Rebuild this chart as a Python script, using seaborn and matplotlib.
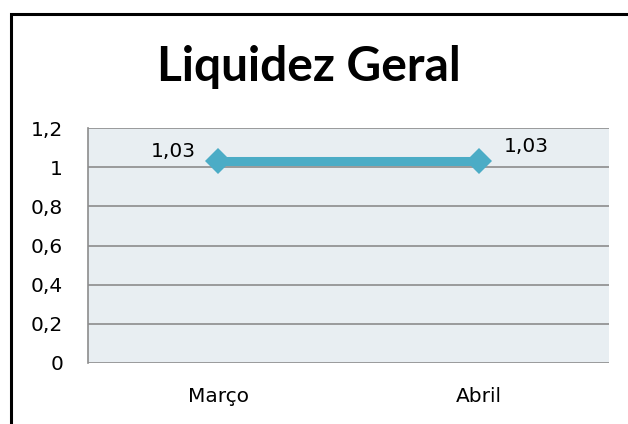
import matplotlib
matplotlib.use("Agg")
import matplotlib.pyplot as plt
import seaborn as sns
import pandas as pd
from matplotlib.patches import Rectangle

categories = ["Março", "Abril"]
values = [1.03, 1.03]
value_labels = ["1,03", "1,03"]
y_ticks = [0, 0.2, 0.4, 0.6, 0.8, 1.0, 1.2]
y_tick_labels = ["0", "0,2", "0,4", "0,6", "0,8", "1", "1,2"]

sns.set_theme(style="white")
plt.rcParams['font.family'] = ['DejaVu Sans']

fig = plt.figure(figsize=(6.28, 4.24), dpi=100)
fig.patch.set_facecolor("white")
fig.add_artist(Rectangle((11/628, -0.1), 1.2, 1 - 14/424 + 0.1, transform=fig.transFigure,
                         fill=False, edgecolor="black", linewidth=2.2))

ax = fig.add_axes([88/628, 1 - 363/424, (609-88)/628, (363-128)/424])
ax.set_facecolor("#e8eef2")

df = pd.DataFrame({"mes": categories, "valor": values})
sns.lineplot(data=df, x="mes", y="valor", ax=ax, color="#4bacc6", linewidth=6.5,
             marker="D", markersize=13, markeredgewidth=0, sort=False)

ax.set_xlim(-0.5, 1.5)
ax.set_ylim(0, 1.2)
ax.set_yticks(y_ticks)
ax.set_yticklabels(y_tick_labels)
ax.yaxis.grid(True, color="#8c8c8c", linewidth=1.2)
ax.set_axisbelow(True)
for s in ["top", "right", "bottom"]:
    ax.spines[s].set_visible(False)
ax.spines["left"].set_color("#8c8c8c")
ax.spines["left"].set_linewidth(1.2)
fs = 14.5
ax.tick_params(axis="y", length=0, pad=18, labelsize=fs, labelcolor="black")
ax.tick_params(axis="x", length=0, pad=17, labelsize=fs, labelcolor="black")
ax.set_xlabel("")
ax.set_ylabel("")

ax.annotate(value_labels[0], (0, values[0]), xytext=(-16.5, 3), textcoords="offset points",
            ha="right", va="baseline", fontsize=fs, color="black")
ax.annotate(value_labels[1], (1, values[1]), xytext=(18, 6.5), textcoords="offset points",
            ha="left", va="baseline", fontsize=fs, color="black")

fig.text(309/628, 1 - 81/424, "Liquidez Geral", ha="center", va="baseline",
         fontsize=34.5, fontweight="bold", color="black", family=["Lato", "DejaVu Sans"])

fig.savefig("out.png", dpi=100)
